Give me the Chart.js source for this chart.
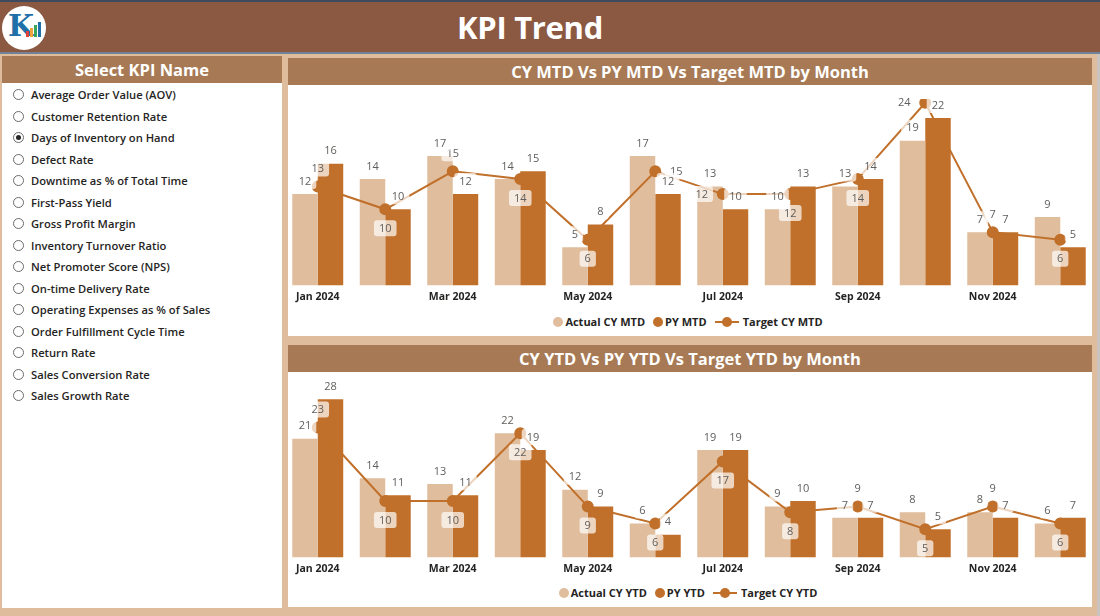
<!DOCTYPE html>
<html>
<head>
<meta charset="utf-8">
<title>KPI Trend</title>
<script src="https://cdn.jsdelivr.net/npm/chart.js@4.4.1/dist/chart.umd.min.js"></script>
<style>
    body { margin: 0; width: 1100px; height: 616px; background: #DFBC9B; font-family: "Open Sans", sans-serif; position: relative; overflow: hidden; }
    #header { position: absolute; left: 0; top: 0; width: 1100px; height: 54px; background: #8B5841; border-top: 2px solid #3E4B5E; border-bottom: 2px solid #71819A; box-sizing: border-box; }
    #header h1 { margin: 0; position: absolute; left: 0; width: 1060px; top: 4px; text-align: center; color: #fff; font-size: 31px; font-weight: 700; letter-spacing: -0.3px; }
    #logo { position: absolute; left: 2px; top: 4px; width: 44px; height: 44px; border-radius: 50%; background: #fff; }
    #logo .k { position: absolute; left: 6px; top: 2px; font: 700 30px "DejaVu Serif", serif; color: #1F6FA8; }
    #logo .bar { position: absolute; bottom: 13px; width: 3px; }
    #rightEdge { position: absolute; left: 1097px; top: 54px; width: 3px; height: 562px; background: #C9C4C0; }
    .panel { position: absolute; background: #fff; }
    .band { position: absolute; left: 0; top: 0; right: 0; background: #A77A55; color: #fff; font-weight: 700; text-align: center; }
    #side { left: 2px; top: 56px; width: 280px; height: 552px; }
    #side .band { height: 27px; line-height: 27px; font-size: 16.5px; }
    #kpiList { position: absolute; left: 0; top: 28px; }
    .kpi { position: absolute; left: 11px; height: 16px; white-space: nowrap; font-size: 11.2px; font-weight: 600; color: #252423; line-height: 16px; }
    .kpi .rb { position: absolute; left: 0; top: 2px; width: 11px; height: 11px; border: 1px solid #6b6b6b; border-radius: 50%; box-sizing: border-box; }
    .kpi .rb.on::after { content: ""; position: absolute; left: 2px; top: 2px; width: 5px; height: 5px; border-radius: 50%; background: #252423; }
    .kpi span { position: absolute; left: 18px; top: 0; }
    #p1 { left: 288px; top: 58px; width: 804px; height: 278px; }
    #p2 { left: 288px; top: 345px; width: 804px; height: 262px; }
    .chartPanel .band { height: 27px; line-height: 27px; font-size: 16.5px; }
    canvas { position: absolute; }
    .legend { position: absolute; left: 0; width: 800px; display: flex; justify-content: center; align-items: center; font-size: 11px; font-weight: 700; color: #252423; }
    .legend .item { display: flex; align-items: center; margin: 0 4px; }
    .legend .dot { width: 10px; height: 10px; border-radius: 50%; margin-right: 2px; }
    .legend .ln { position: relative; width: 24px; height: 10px; margin-right: 4px; }
    .legend .ln::before { content: ""; position: absolute; left: 0; right: 0; top: 4px; height: 2px; background: #C0702A; }
    .legend .ln::after { content: ""; position: absolute; left: 7px; top: 0; width: 10px; height: 10px; border-radius: 50%; background: #C0702A; }
</style>
</head>
<body>
<div id="header">
    <div id="logo"><span class="k">K</span></div>
    <h1>KPI Trend</h1>
</div>
<div id="rightEdge"></div>

<div class="panel" id="side">
    <div class="band">Select KPI Name</div>
    <div id="kpiList"></div>
</div>

<div class="panel chartPanel" id="p1">
    <div class="band">CY MTD Vs PY MTD Vs Target MTD by Month</div>
    <canvas id="mtdChart" width="824" height="222" style="left:-11px; top:28px;"></canvas>
    <div class="legend" id="mtdLegend" style="top:256px;"></div>
</div>

<div class="panel chartPanel" id="p2">
    <div class="band">CY YTD Vs PY YTD Vs Target YTD by Month</div>
    <canvas id="ytdChart" width="824" height="208" style="left:-11px; top:27px;"></canvas>
    <div class="legend" id="ytdLegend" style="top:240px;"></div>
</div>

<script>
const months = ['Jan 2024', 'Feb 2024', 'Mar 2024', 'Apr 2024', 'May 2024', 'Jun 2024',
    'Jul 2024', 'Aug 2024', 'Sep 2024', 'Oct 2024', 'Nov 2024', 'Dec 2024'];

const actualMTD = [12, 14, 17, 14, 5, 17, 13, 10, 13, 19, 7, 9];
const pyMTD = [16, 10, 12, 15, 8, 12, 10, 13, 14, 22, 7, 5];
const targetMTD = [13, 10, 15, 14, 6, 15, 12, 12, 14, 24, 7, 6];

const actualYTD = [21, 14, 13, 22, 12, 6, 19, 9, 7, 8, 8, 6];
const pyYTD = [28, 11, 11, 19, 9, 4, 19, 10, 7, 5, 7, 7];
const targetYTD = [23, 10, 10, 22, 9, 6, 17, 8, 9, 5, 9, 6];

const kpiNames = [
    'Average Order Value (AOV)',
    'Customer Retention Rate',
    'Days of Inventory on Hand',
    'Defect Rate',
    'Downtime as % of Total Time',
    'First-Pass Yield',
    'Gross Profit Margin',
    'Inventory Turnover Ratio',
    'Net Promoter Score (NPS)',
    'On-time Delivery Rate',
    'Operating Expenses as % of Sales',
    'Order Fulfillment Cycle Time',
    'Return Rate',
    'Sales Conversion Rate',
    'Sales Growth Rate'
];
const selectedKpi = 'Days of Inventory on Hand';

// where the target label sits relative to its marker (styling only)
const mtdTargetLabelPos = ['above', 'below', 'above', 'below', 'below', 'right', 'left', 'below', 'below', 'left', 'above', 'below'];
const ytdTargetLabelPos = ['above', 'below', 'below', 'below', 'below', 'below', 'below', 'below', 'above', 'below', 'above', 'below'];

const colActual = '#E0BD9C';
const colPY = '#C0702A';
const labelColor = '#605E5C';

// радиокнопки слева
const list = document.getElementById('kpiList');
kpiNames.forEach((name, i) => {
    const row = document.createElement('div');
    row.className = 'kpi';
    row.style.top = (3 + i * 21.5) + 'px';
    row.innerHTML = '<div class="rb' + (name === selectedKpi ? ' on' : '') + '"></div><span>' + name + '</span>';
    list.appendChild(row);
});

// маленький логотип: столбики
const logo = document.getElementById('logo');
[['#E0413A', 6], ['#F2A33A', 9], ['#3BA55C', 12], ['#1F6FA8', 15]].forEach((b, i) => {
    const d = document.createElement('div');
    d.className = 'bar';
    d.style.left = (24 + i * 4) + 'px';
    d.style.height = b[1] + 'px';
    d.style.background = b[0];
    logo.appendChild(d);
});

function drawBox(ctx, text, x, y) {
    ctx.font = '11px "Open Sans"';
    const w = ctx.measureText(text).width + 10;
    const h = 16;
    ctx.fillStyle = 'rgba(255,255,255,0.7)';
    ctx.beginPath();
    ctx.roundRect(x - w / 2, y - h / 2, w, h, 3);
    ctx.fill();
    ctx.fillStyle = labelColor;
    ctx.textAlign = 'center';
    ctx.textBaseline = 'middle';
    ctx.fillText(text, x, y + 0.5);
}

const valueLabels = {
    id: 'valueLabels',
    afterDatasetsDraw(chart, args, opts) {
        const ctx = chart.ctx;
        ctx.save();
        chart.data.datasets.forEach((ds, di) => {
            const meta = chart.getDatasetMeta(di);
            meta.data.forEach((el, i) => {
                const txt = String(ds.data[i]);
                if (ds.type === 'line') {
                    const pos = opts.targetPos[i];
                    let x = el.x, y = el.y;
                    if (pos === 'above') y -= 18;
                    else if (pos === 'below') y += 19;
                    else if (pos === 'left') x -= 21;
                    else if (pos === 'right') x += 21;
                    drawBox(ctx, txt, x, y);
                } else {
                    drawBox(ctx, txt, el.x, el.y - 13);
                }
            });
        });
        ctx.restore();
    }
};

function makeChart(id, legendId, names, actual, py, target, yMax, padTop, targetPos) {
    const datasets = [
        {
            type: 'line', label: names[2], data: target, order: 0,
            borderColor: colPY, backgroundColor: colPY, borderWidth: 2,
            pointRadius: 5, pointHoverRadius: 5, pointBackgroundColor: colPY, tension: 0
        },
        {
            type: 'bar', label: names[0], data: actual, order: 1,
            backgroundColor: colActual, categoryPercentage: 0.755, barPercentage: 1
        },
        {
            type: 'bar', label: names[1], data: py, order: 1,
            backgroundColor: colPY, categoryPercentage: 0.755, barPercentage: 1
        }
    ];

    new Chart(document.getElementById(id), {
        data: { labels: months, datasets: datasets },
        options: {
            responsive: false,
            animation: false,
            layout: { padding: { top: padTop, bottom: 0, left: 0, right: 0 } },
            plugins: {
                legend: { display: false },
                tooltip: { enabled: false },
                valueLabels: { targetPos: targetPos }
            },
            scales: {
                x: {
                    grid: { display: false, drawTicks: false },
                    border: { display: false },
                    ticks: {
                        autoSkip: false, maxRotation: 0, padding: 5,
                        color: '#252423',
                        font: { family: 'Open Sans', size: 10.5, weight: 'bold' },
                        callback: function (v, i) { return i % 2 === 0 ? this.getLabelForValue(v) : ''; }
                    }
                },
                y: { display: false, min: 0, max: yMax }
            }
        },
        plugins: [valueLabels]
    });

    // легенда
    const leg = document.getElementById(legendId);
    leg.innerHTML =
        '<div class="item"><div class="dot" style="background:' + colActual + '"></div>' + names[0] + '</div>' +
        '<div class="item"><div class="dot" style="background:' + colPY + '"></div>' + names[1] + '</div>' +
        '<div class="item"><div class="ln"></div>' + names[2] + '</div>';
}

makeChart('mtdChart', 'mtdLegend', ['Actual CY MTD', 'PY MTD', 'Target CY MTD'],
    actualMTD, pyMTD, targetMTD, 24.5, 13, mtdTargetLabelPos);
makeChart('ytdChart', 'ytdLegend', ['Actual CY YTD', 'PY YTD', 'Target CY YTD'],
    actualYTD, pyYTD, targetYTD, 30, 16, ytdTargetLabelPos);
</script>
</body>
</html>
